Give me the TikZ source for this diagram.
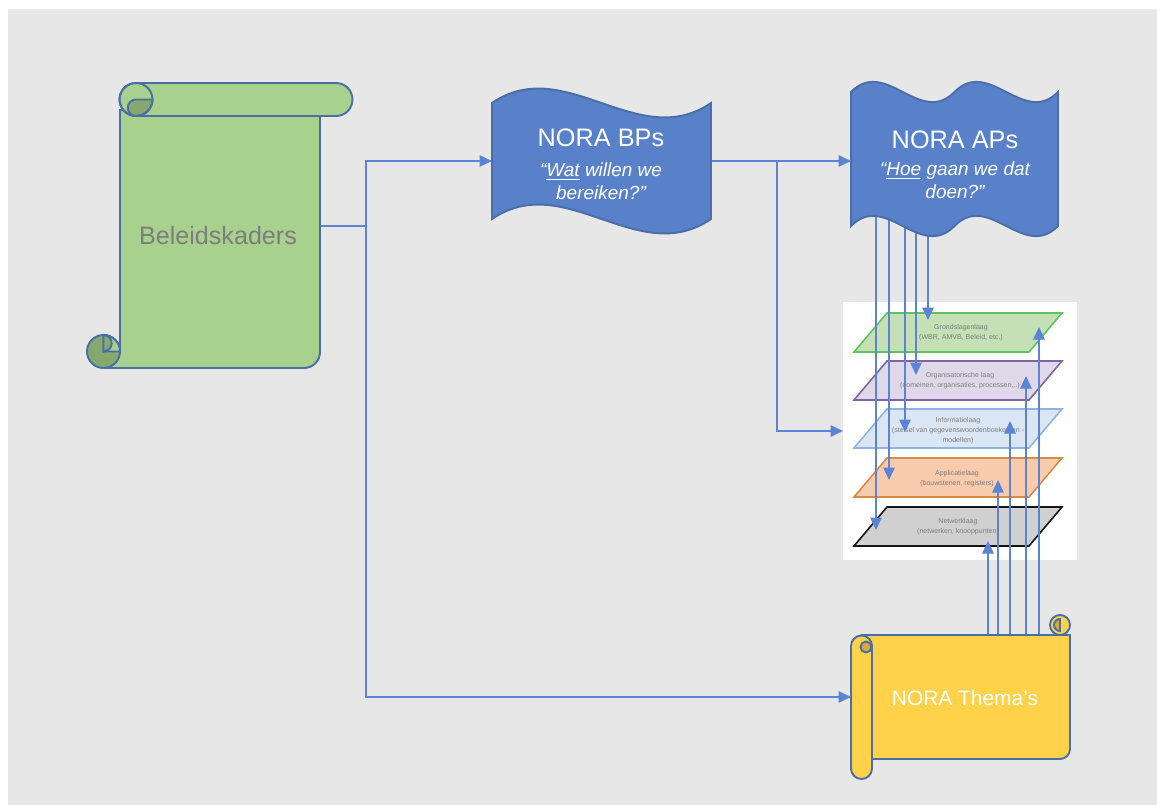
\documentclass[tikz,border=0pt]{standalone}
\usepackage{fontspec}
\setmainfont{Liberation Sans}
\usetikzlibrary{positioning, calc, arrows.meta}

\definecolor{bggray}{RGB}{231,231,231}
\definecolor{edgeblue}{RGB}{74,110,168}
\definecolor{lineblue}{RGB}{92,132,212}
\definecolor{wavefill}{RGB}{89,129,202}
\definecolor{kadersfill}{RGB}{169,209,142}
\definecolor{kadersdark}{RGB}{133,168,110}
\definecolor{themafill}{RGB}{255,210,74}
\definecolor{themadark}{RGB}{214,172,56}
\definecolor{textgray}{RGB}{125,125,125}
\definecolor{grondfill}{RGB}{197,224,180}
\definecolor{grondline}{RGB}{92,196,92}
\definecolor{orgfill}{RGB}{223,216,232}
\definecolor{orgline}{RGB}{128,100,162}
\definecolor{infofill}{RGB}{218,230,244}
\definecolor{infoline}{RGB}{143,180,227}
\definecolor{appfill}{RGB}{248,203,173}
\definecolor{appline}{RGB}{214,140,70}
\definecolor{netfill}{RGB}{208,208,208}
\definecolor{netline}{RGB}{20,20,20}

\begin{document}
\begin{tikzpicture}[x=0.2mm, y=-0.2mm,
    % Node styles
    holder/.style={inner sep=0pt, outer sep=0pt},
    outline/.style={line width=1.1pt, draw=edgeblue},
    layer/.style={line width=0.9pt},
    layertext/.style={font=\fontsize{4}{5.7}\selectfont, text=textgray, align=center, inner sep=0pt},
    wavetitle/.style={font=\fontsize{14.4}{17}\selectfont, text=white},
    quote/.style={font=\itshape\fontsize{10.8}{13}\selectfont, text=white, align=center},
    % Arrow styles
    flow/.style={-{Triangle[length=2.5mm, width=2.3mm]}, line width=0.8pt, draw=lineblue},
  ]
  % Background
  \fill[white] (0,0) rectangle (1157,805);
  \fill[bggray] (8,9) rectangle (1157,805);
  \useasboundingbox (0,0) rectangle (1157,805);

  % Placeholders for the shapes
  \node[holder, minimum width=40mm, minimum height=56.8mm] (kaders) at (220,226) {};
  \node[holder, minimum width=43.8mm, minimum height=23.2mm] (bps) at (601.5,161) {};
  \node[holder, minimum width=41.4mm, minimum height=26.8mm] (aps) at (954.5,159) {};
  \node[holder, minimum width=43.8mm, minimum height=24.8mm] (themas) at (960.5,697) {};
  \node[holder, fill=white, minimum width=46.8mm, minimum height=51.6mm] (model) at (960,431) {};

  % Layer model
  \foreach \t/\f/\d in {313/grondfill/grondline, 361/orgfill/orgline, 409/infofill/infoline,
                        458/appfill/appline, 507/netfill/netline} {
    \filldraw[layer, fill=\f, draw=\d] (887,\t) -- (1062,\t) -- (1029,\t+39) -- (854,\t+39) -- cycle;
  }
  \node[layertext] (l1) at (961,333) {Grondslagenlaag\\(WBR, AMVB, Beleid, etc.)};
  \node[layertext] (l2) at (960,381) {Organisatorische laag\\(domeinen, organisaties, processen,..)};
  \node[layertext] (l3) at (958,431) {Informatielaag\\(stelsel van gegevenswoordenboeken en -\\modellen)};
  \node[layertext] (l4) at (957,479) {Applicatielaag\\(bouwstenen, registers)};
  \node[layertext] (l5) at (958,527) {Netwerklaag\\(netwerken, knooppunten)};

  % Connectors
  \draw[flow] (kaders.east) -- ++(46,0) |- (bps.west);
  \draw[flow] (kaders.east) -- ++(46,0) |- (themas.west);
  \draw[flow] (bps.east) -- (bps.east -| aps.west);
  \draw[flow] (bps.east) -- ++(66,0) |- (model.west);

  % APs down to the layers
  \foreach \i/\x/\y in {1/928/320, 2/916/375, 3/905/432, 4/889/480, 5/876/530} {
    \coordinate (down\i) at (\x,\y);
    \draw[flow] (aps.center -| down\i) -- (down\i);
  }
  % Thema's up to the layers
  \foreach \i/\x/\y in {1/1039/327, 2/1026/376, 3/1010/421, 4/998/480, 5/988/541} {
    \coordinate (up\i) at (\x,\y);
    \draw[flow] (themas.center -| up\i) -- (up\i);
  }

  % Beleidskaders scroll
  \filldraw[outline, fill=kadersfill] (120,110) -- (320,110) -- (320,352)
    arc[start angle=0, end angle=90, radius=16] -- (103.5,368) -- (103.5,351.5) -- (120,351.5) -- cycle;
  \filldraw[outline, fill=kadersfill] (136,83) -- (336,83) arc[start angle=-90, end angle=90, radius=16.5]
    -- (136,116) arc[start angle=90, end angle=270, radius=16.5] -- cycle;
  \filldraw[outline, fill=kadersdark] (136,99.5) -- (152.5,99.5) arc[start angle=0, end angle=90, radius=16.5]
    arc[start angle=90, end angle=270, radius=8.25] -- cycle;
  \draw[outline] (136,99.5) circle (16.5);
  \filldraw[outline, fill=kadersdark] (103.5,351.5) circle (16.5);
  \filldraw[outline, fill=kadersfill] (103.5,351.5) -- (103.5,335) arc[start angle=-90, end angle=0, radius=16.5] -- cycle;
  \filldraw[outline, fill=kadersdark] (103.5,335) arc[start angle=-90, end angle=90, radius=8.25] -- cycle;

  % Wave shapes
  \filldraw[outline, fill=wavefill] (492,103) .. controls (565,53) and (638,153) .. (711,103)
    -- (711,219) .. controls (638,269) and (565,169) .. (492,219) -- cycle;
  \filldraw[outline, fill=wavefill] (851,92) .. controls (885.5,57) and (920,127) .. (954.5,92)
    .. controls (989,57) and (1023.5,127) .. (1058,92)
    -- (1058,226) .. controls (1023.5,261) and (989,191) .. (954.5,226)
    .. controls (920,261) and (885.5,191) .. (851,226) -- cycle;

  % Thema's scroll
  \filldraw[outline, fill=themafill] (861.5,635) -- (1070,635) -- (1070,749)
    arc[start angle=0, end angle=90, radius=10] -- (861.5,759) -- cycle;
  \filldraw[outline, fill=themafill] (1060,625) circle (10);
  \filldraw[outline, fill=themadark] (1060,619) arc[start angle=-90, end angle=-270, radius=6] -- cycle;
  \filldraw[outline, fill=themafill] (851,646) -- (851,768.5) arc[start angle=180, end angle=0, radius=10.5]
    -- (872,646) arc[start angle=0, end angle=-180, radius=10.5] -- cycle;
  \filldraw[outline, fill=themadark] (866,647) circle (5.5);

  % Texts
  \node[font=\fontsize{14.3}{17}\selectfont, text=textgray] (kaders-label) at (218,236) {Beleidskaders};
  \node[wavetitle] (bps-title) at (601,138) {NORA BPs};
  \node[quote] (bps-quote) at (601,181) {“\underline{Wat} willen we\\bereiken?”};
  \node[wavetitle] (aps-title) at (955,140) {NORA APs};
  \node[quote] (aps-quote) at (955,180) {“\underline{Hoe} gaan we dat\\doen?”};
  \node[font=\fontsize{11.9}{14}\selectfont, text=white] (themas-label) at (965,698) {NORA Thema’s};
\end{tikzpicture}
\end{document}
